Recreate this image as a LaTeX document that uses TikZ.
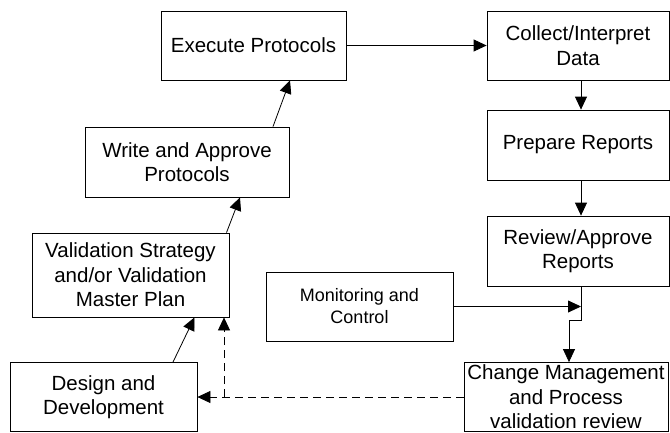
\documentclass[tikz,border=0pt]{standalone}
\usepackage{fontspec}
\setmainfont{Liberation Sans}
\usepackage{tikz}
\usetikzlibrary{arrows.meta,%
                positioning}

\begin{document}
\begin{tikzpicture}[x=1pt,y=-1pt,
		StepBox/.style={draw=black,line width=0.8pt,align=center,inner sep=0pt,
			font=\fontsize{20.5}{24.5}\selectfont},
		post/.style={-{Triangle[length=13pt,width=12pt]},line width=0.8pt},
		LoopStyle/.style={post,dash pattern=on 8pt off 5pt}]
		\useasboundingbox (0,0) rectangle (670,432);
		%\draw[help lines] (0,0) grid[step=50] (670,432);
		\node[StepBox,minimum width=185pt,minimum height=69pt] (Exec) at (253.5,45.5) {Execute Protocols};
		\node[StepBox,minimum width=182pt,minimum height=69pt] (Collect) at (578,45.5) {Collect/Interpret\\Data};
		\node[StepBox,minimum width=182pt,minimum height=70pt] (Prepare) at (578,145) {Prepare Reports};
		\node[StepBox,minimum width=182pt,minimum height=70pt] (Review) at (578,251) {Review/Approve\\Reports};
		{
			\tikzset{StepBox/.append style = {font=\fontsize{18}{22}\selectfont}}
			\node[StepBox,minimum width=187pt,minimum height=69pt] (Monitor) at (359.5,306.5) {Monitoring and\\Control};
		}
		\node[StepBox,minimum width=204pt,minimum height=69pt] (Change) at (566,397) {Change Management\\and Process\\validation review};
		\node[StepBox,minimum width=204pt,minimum height=70pt] (Write) at (187,162) {Write and Approve\\Protocols};
		\node[StepBox,minimum width=197pt,minimum height=84pt] (Plan) at (130.5,275) {Validation Strategy\\and/or Validation\\Master Plan};
		\node[StepBox,minimum width=187pt,minimum height=69pt] (Design) at (103.5,397) {Design and\\Development};
		% left column, going up
		\draw[post] ([xshift=69.5pt]Design.north) -- ([xshift=64pt]Plan.south);
		\draw[post] ([xshift=96pt]Plan.north) -- ([xshift=53pt]Write.south);
		\draw[post] ([xshift=86pt]Write.north) -- ([xshift=36.5pt]Exec.south);
		\draw[post] (Exec.east) -- (Collect.west);
		% right column, going down
		\draw[post] ([xshift=3pt]Collect.south) -- ([xshift=3pt]Prepare.north);
		\draw[post] ([xshift=3pt]Prepare.south) -- ([xshift=3pt]Review.north);
		\draw[post] ([xshift=3pt]Review.south) -- ++(0,34) -| ([xshift=3pt]Change.north);
		\draw[post] (Monitor.east) -- ([xshift=3pt]Review.south |- Monitor.east);
		% feedback loop
		\coordinate (Fork) at (224,397);
		\draw[LoopStyle] (Change.west) -- (Design.east);
		\draw[LoopStyle] (Fork) -- (Fork |- Plan.south);
\end{tikzpicture}
\end{document}
